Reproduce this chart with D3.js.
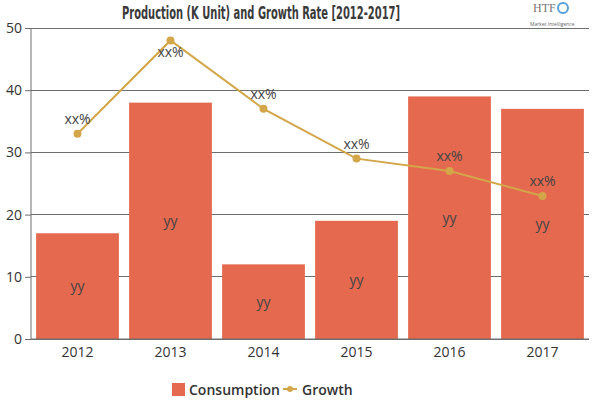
<!DOCTYPE html>
<html><head><meta charset="utf-8">
<script src="https://cdn.jsdelivr.net/npm/d3@7"></script>
<style>body{margin:0;background:#fff}svg{display:block;font-family:"Open Sans","Noto Sans",sans-serif}</style>
</head><body><svg id="c" width="600" height="400"></svg>
<script>
const years = ["2012","2013","2014","2015","2016","2017"];
const consumption = [17, 38, 12, 19, 39, 37];
const growth = [33, 48, 37, 29, 27, 23];
const barLabels = ["yy","yy","yy","yy","yy","yy"];
const growthLabels = ["xx%","xx%","xx%","xx%","xx%","xx%"];
const yTicks = [0,10,20,30,40,50];
const title = "Production (K Unit) and Growth Rate [2012-2017]";

const svg = d3.select("#c");
const m = {l:31, r:11, t:28, b:61};
const W = 600, H = 400;
const x = d3.scaleBand().domain(years).range([m.l, W-m.r]).paddingInner(0.11).paddingOuter(0.055);
const y = d3.scaleLinear().domain([0,50]).range([H-m.b, m.t]);
const barColor = "#E5694F", lineColor = "#D4A64A", gridColor = "#6e6e6e";

// grid
svg.append("g").selectAll("line").data(yTicks).join("line")
  .attr("x1", m.l).attr("x2", W-m.r).attr("y1", d=>y(d)).attr("y2", d=>y(d))
  .attr("stroke", gridColor).attr("stroke-width", 1).attr("shape-rendering","crispEdges");

// y axis
const ya = svg.append("g").attr("transform", `translate(${m.l},0)`)
  .call(d3.axisLeft(y).tickValues(yTicks).tickSize(6).tickPadding(3));
ya.select(".domain").attr("stroke", gridColor).attr("d", `M0,${y(50)}V${y(0)}`);
ya.selectAll(".tick line").attr("stroke", gridColor);
ya.selectAll("text").attr("font-size", 14).attr("fill", "#333").attr("font-family","Open Sans, sans-serif");

// bars
svg.append("g").selectAll("rect").data(years).join("rect")
  .attr("x", d=>x(d)).attr("width", x.bandwidth())
  .attr("y", (d,i)=>y(consumption[i])).attr("height", (d,i)=>y(0)-y(consumption[i]))
  .attr("fill", barColor);

// x axis
const xa = svg.append("g").attr("transform", `translate(0,${y(0)})`)
  .call(d3.axisBottom(x).tickSize(0).tickPadding(8));
xa.select(".domain").attr("stroke", gridColor).attr("d", `M${m.l},0H${W-m.r}`);
xa.selectAll("text").attr("font-size", 14).attr("fill", "#333").attr("font-family","Open Sans, sans-serif");

// bar labels
svg.append("g").selectAll("text").data(years).join("text")
  .attr("x", d=>x(d)+x.bandwidth()/2)
  .attr("y", (d,i)=>(y(consumption[i])+y(0))/2)
  .attr("dy","0.35em").attr("text-anchor","middle")
  .attr("font-size", 14).attr("fill", "#444").text((d,i)=>barLabels[i]);

// line
const line = d3.line().x((d,i)=>x(years[i])+x.bandwidth()/2).y(d=>y(d));
svg.append("path").datum(growth).attr("d", line)
  .attr("fill","none").attr("stroke", lineColor).attr("stroke-width", 2);
svg.append("g").selectAll("circle").data(growth).join("circle")
  .attr("cx",(d,i)=>x(years[i])+x.bandwidth()/2).attr("cy", d=>y(d)).attr("r", 4).attr("fill", lineColor);

// growth labels
svg.append("g").selectAll("text").data(growth).join("text")
  .attr("x",(d,i)=>x(years[i])+x.bandwidth()/2)
  .attr("y", d=>{ const p = y(d)-15; return p < m.t+10 ? y(d)+12 : p; })
  .attr("dy","0.35em").attr("text-anchor","middle")
  .attr("font-size", 14).attr("fill", "#444").text((d,i)=>growthLabels[i]);

// title
svg.append("text").attr("x", 122).attr("y", 19)
  .attr("textLength", 278).attr("lengthAdjust","spacingAndGlyphs")
  .attr("font-family","DejaVu Sans, sans-serif")
  .attr("font-weight","bold").attr("font-size", 17).attr("fill","#3a3a3a").text(title);

// logo
const lg = svg.append("g");
lg.append("text").attr("x", 533).attr("y", 12).attr("font-family","Liberation Serif, serif")
  .attr("font-size", 12).attr("fill","#777").text("HTF");
lg.append("text").attr("x", 530).attr("y", 26).attr("font-size", 5).attr("fill","#666").text("Market Intelligence");
lg.append("circle").attr("cx", 563).attr("cy", 8).attr("r", 5).attr("fill","none").attr("stroke","#5a9fd4").attr("stroke-width",2);

// legend
const leg = svg.append("g");
leg.append("rect").attr("x",172).attr("y",383).attr("width",13).attr("height",13).attr("fill",barColor);
leg.append("text").attr("x",189).attr("y",390).attr("dy","0.35em").attr("font-size",14).attr("font-weight",600).attr("fill","#333").text("Consumption");
leg.append("line").attr("x1",283).attr("x2",297).attr("y1",389).attr("y2",389).attr("stroke",lineColor).attr("stroke-width",2);
leg.append("circle").attr("cx",290).attr("cy",389).attr("r",3).attr("fill",lineColor);
leg.append("text").attr("x",302).attr("y",390).attr("dy","0.35em").attr("font-size",14).attr("font-weight",600).attr("fill","#333").text("Growth");
</script></body></html>
